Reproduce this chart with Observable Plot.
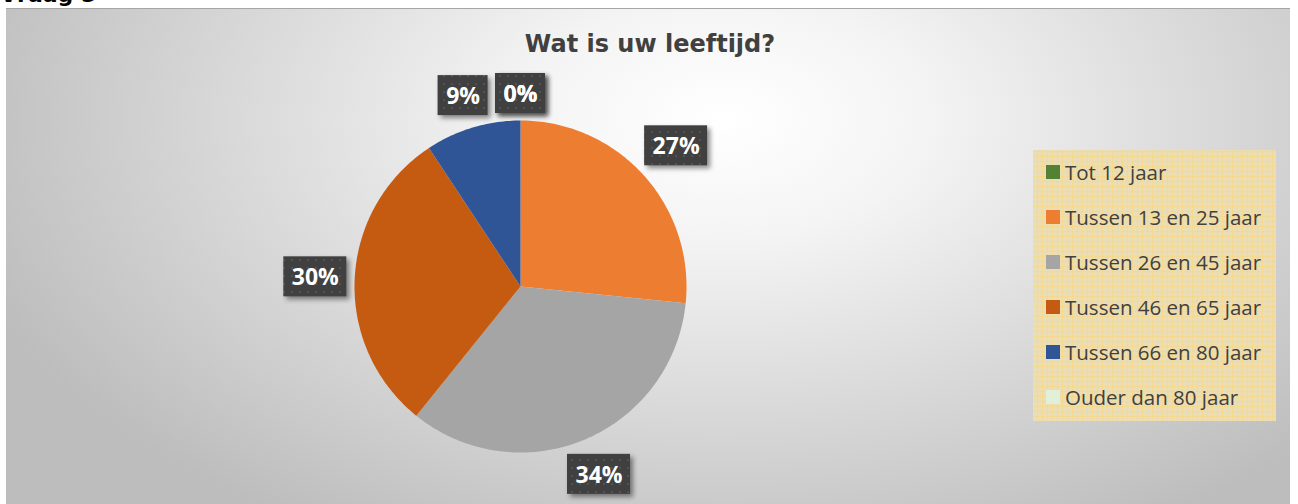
<!DOCTYPE html>
<html>
<head>
<meta charset="utf-8">
<script src="https://cdn.jsdelivr.net/npm/d3@7"></script>
<script src="https://cdn.jsdelivr.net/npm/@observablehq/plot@0.6"></script>
<style>
  html, body { margin: 0; padding: 0; background: #ffffff; }
  #page { position: relative; width: 1298px; height: 504px; overflow: hidden; background: #fff; }
  #vraag { position: absolute; left: 0; top: -18px; font: bold 22px "DejaVu Sans", sans-serif; color: #000; }
  #box { position: absolute; left: 6px; top: 8px; width: 1284px; height: 500px;
         border-top: 1px solid #a6a6a6;
         background: radial-gradient(ellipse 62% 95% at 56% 22%, #ffffff 0%, #f4f4f4 25%, #dadada 60%, #bdbdbd 100%); }
  #title { position: absolute; left: 0; width: 1300px; top: 30px; text-align: center;
           font: bold 24px "DejaVu Sans", sans-serif; color: #404040; }
  #chart { position: absolute; left: 0; top: 0; }
  #legend { position: absolute; left: 1033px; top: 150px; width: 243px; height: 271px; box-sizing: border-box;
            padding-top: 10px; padding-left: 13px;
            background-color: #ecdeb4;
            background-image:
              repeating-linear-gradient(0deg, transparent 0 4px, rgba(250,214,120,0.55) 4px 5px),
              repeating-linear-gradient(90deg, transparent 0 4px, rgba(250,214,120,0.55) 4px 5px); }
  .row { height: 45px; display: flex; align-items: flex-start; font: 20.5px "Open Sans", sans-serif; color: #404040; line-height: 24px; white-space: nowrap; }
  .sw { width: 14px; height: 14px; margin-right: 5px; margin-top: 5px; flex: none; }
  svg g[aria-label="rect"] rect { filter: drop-shadow(3px 3px 2.5px rgba(0,0,0,0.45)); }
</style>
</head>
<body>
<div id="page">
  <div id="vraag">Vraag 5</div>
  <div id="box"></div>
  <div id="title">Wat is uw leeftijd?</div>
  <div id="chart"></div>
  <div id="legend"></div>
</div>
<script>
const categories = ["Tot 12 jaar", "Tussen 13 en 25 jaar", "Tussen 26 en 45 jaar", "Tussen 46 en 65 jaar", "Tussen 66 en 80 jaar", "Ouder dan 80 jaar"];
const values = [0, 26.6, 34.2, 29.9, 9.3, 0];
const colors = ["#548235", "#ED7D31", "#A5A5A5", "#C55A11", "#2F5597", "#E2F0D9"];
const labels = ["0%", "27%", "34%", "30%", "9%", "0%"];

const cx = 520, cy = 286, R = 166;

const arcs = d3.pie().sort(null).value(d => d)(values);

// slice polygons in unit coordinates
const slices = arcs.map((a, i) => {
  const pts = [{x: 0, y: 0}];
  const n = Math.max(2, Math.ceil((a.endAngle - a.startAngle) / (Math.PI * 2) * 360));
  for (let k = 0; k <= n; k++) {
    const t = a.startAngle + (a.endAngle - a.startAngle) * k / n;
    pts.push({x: Math.sin(t), y: Math.cos(t)});
  }
  pts.push({x: 0, y: 0});
  return {i, pts, value: values[i]};
});

// label boxes (outside end)
const boxes = arcs.map((a, i) => {
  const m = (a.startAngle + a.endAngle) / 2;
  const w = 24 + 13 * labels[i].length, h = 40;
  const d = (R + 7 + Math.abs(Math.sin(m)) * w / 2 + Math.abs(Math.cos(m)) * h / 2) / R;
  const x = Math.sin(m) * d, y = Math.cos(m) * d;
  return {label: labels[i], x, y, x1: x - w / 2 / R, x2: x + w / 2 / R, y1: y - h / 2 / R, y2: y + h / 2 / R};
});

const marks = slices.filter(s => s.value > 0).map(s =>
  Plot.line(s.pts, {x: "x", y: "y", fill: colors[s.i], stroke: "none", curve: "linear"})
);
marks.push(Plot.rect(boxes, {x1: "x1", x2: "x2", y1: "y1", y2: "y2", fill: "#404040"}));
marks.push(Plot.text(boxes, {x: "x", y: "y", text: "label", fill: "#ffffff",
  fontSize: 23, fontWeight: "bold", fontFamily: "Open Sans", dy: 1}));

const chart = Plot.plot({
  width: 1298, height: 504, margin: 0,
  style: {background: "transparent", overflow: "visible"},
  x: {domain: [-1, 1], range: [cx - R, cx + R], axis: null},
  y: {domain: [-1, 1], range: [cy + R, cy - R], axis: null},
  marks
});
document.getElementById("chart").appendChild(chart);

// subtle dotted texture on label boxes
const svg = d3.select(chart);
const defs = svg.insert("defs", ":first-child");
const pat = defs.append("pattern").attr("id", "dots").attr("width", 8).attr("height", 8).attr("patternUnits", "userSpaceOnUse");
pat.append("rect").attr("width", 8).attr("height", 8).attr("fill", "#404040");
pat.append("rect").attr("x", 3).attr("y", 3).attr("width", 2).attr("height", 2).attr("fill", "#525252");
svg.selectAll('g[aria-label="rect"] rect').attr("fill", "url(#dots)");

// legend
const legend = d3.select("#legend");
categories.forEach((c, i) => {
  const row = legend.append("div").attr("class", "row");
  row.append("div").attr("class", "sw").style("background", colors[i]);
  row.append("span").text(c);
});
</script>
</body>
</html>
